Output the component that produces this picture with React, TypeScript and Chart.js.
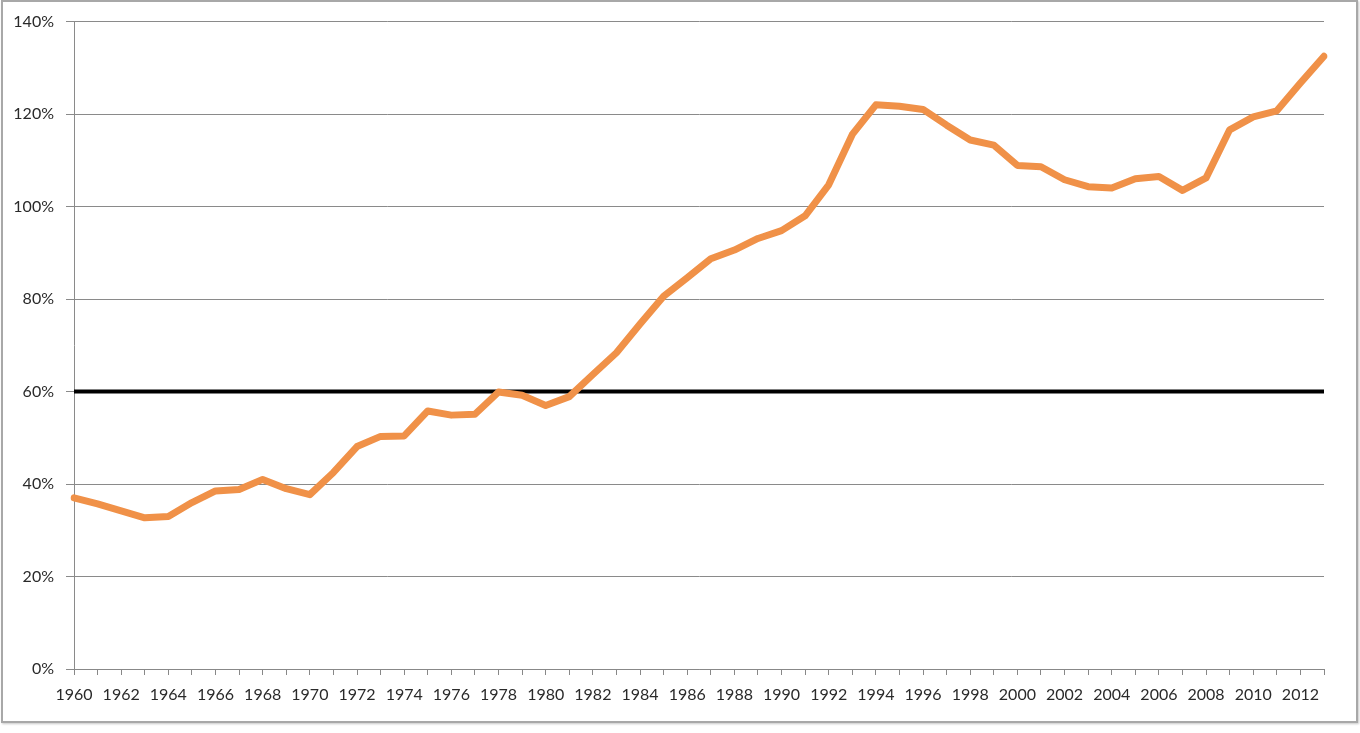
import React, { useEffect, useRef } from "react";
import { Chart, registerables } from "chart.js";

Chart.register(...registerables);

const years: string[] = [];
for (let y = 1960; y <= 2013; y++) years.push(String(y));

const debtRatio: number[] = [
  37.0, 35.7, 34.2, 32.7, 33.0, 36.0, 38.5, 38.8, 41.0, 39.0,
  37.7, 42.5, 48.1, 50.3, 50.4, 55.8, 54.9, 55.1, 59.9, 59.2,
  57.0, 58.9, 63.7, 68.4, 74.6, 80.6, 84.6, 88.7, 90.6, 93.1,
  94.8, 98.0, 104.7, 115.6, 122.0, 121.7, 121.0, 117.6, 114.4, 113.3,
  108.9, 108.6, 105.8, 104.3, 104.0, 106.0, 106.5, 103.5, 106.2, 116.6,
  119.4, 120.7, 126.7, 132.5,
];

const thresholdValue = 60;
const thresholdLine: number[] = years.map(() => thresholdValue);

const yTicks: number[] = [0, 20, 40, 60, 80, 100, 120, 140];

export default function App() {
  const ref = useRef<HTMLCanvasElement | null>(null);

  useEffect(() => {
    if (!ref.current) return;
    const chart = new Chart(ref.current, {
      type: "line",
      data: {
        labels: years,
        datasets: [
          {
            label: "Threshold",
            data: thresholdLine,
            borderColor: "#000000",
            borderWidth: 4,
            pointRadius: 0,
            tension: 0,
            order: 2,
          },
          {
            label: "Debt",
            data: debtRatio,
            borderColor: "#F09148",
            borderWidth: 7,
            pointRadius: 0,
            tension: 0,
            borderJoinStyle: "round",
            borderCapStyle: "round",
            order: 1,
          },
        ],
      },
      options: {
        animation: false,
        responsive: false,
        maintainAspectRatio: false,
        layout: { padding: { top: 20, right: 36, left: 0, bottom: 0 } },
        plugins: {
          legend: { display: false },
          tooltip: { enabled: false },
        },
        scales: {
          x: {
            offset: false,
            afterFit: (s: any) => {
              s.height = 64;
            },
            grid: {
              drawOnChartArea: false,
              drawTicks: true,
              tickLength: 6,
              color: "#888888",
            },
            border: { color: "#888888", width: 1 },
            ticks: {
              autoSkip: false,
              maxRotation: 0,
              minRotation: 0,
              padding: 10,
              color: "#2a2a2a",
              font: { family: "Lato", size: 16 },
              callback: (_v: any, i: number) =>
                i % 2 === 0 ? years[i] : "",
            },
          },
          y: {
            min: 0,
            max: 140,
            afterFit: (s: any) => {
              s.width = 74;
            },
            afterBuildTicks: (s: any) => {
              s.ticks = yTicks.map((v) => ({ value: v }));
            },
            grid: {
              color: "#8a8a8a",
              lineWidth: 1,
              tickLength: 8,
            },
            border: { color: "#8a8a8a", width: 1 },
            ticks: {
              padding: 12,
              color: "#2a2a2a",
              font: { family: "Lato", size: 16 },
              callback: (v: any) => v + "%",
            },
          },
        },
      },
    });
    return () => chart.destroy();
  }, []);

  return (
    <div
      style={{
        position: "fixed",
        left: 0,
        top: 0,
        width: 1360,
        height: 733,
        background: "#ffffff",
      }}
    >
      <div
        style={{
          position: "absolute",
          left: 1,
          top: 0,
          width: 1357,
          height: 723,
          border: "2px solid #a8a8a8",
          boxSizing: "border-box",
          boxShadow: "1px 1px 2px #c8c8c8",
        }}
      />
      <canvas
        ref={ref}
        width={1360}
        height={733}
        style={{ position: "absolute", left: 0, top: 0, width: 1360, height: 733 }}
      />
    </div>
  );
}
